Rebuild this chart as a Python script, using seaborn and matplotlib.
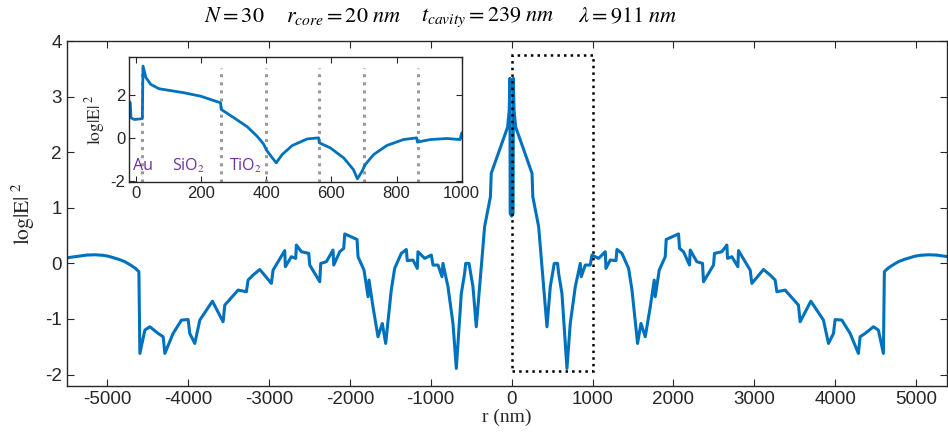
import numpy as np
import pandas as pd
import seaborn as sns
import matplotlib.pyplot as plt
from matplotlib.patches import Rectangle

# main curve, r >= 0 (the plot is mirror symmetric about r = 0)
r_pos = [0, 18, 21, 30, 50, 107, 252, 262, 334, 375, 395, 437, 478, 527, 568, 581,
         622, 684, 725, 787, 849, 861, 910, 972, 993, 1075, 1158, 1166, 1219, 1290,
         1302, 1364, 1446, 1488, 1557, 1599, 1652, 1714, 1763, 1775, 1825, 1899, 1911,
         2063, 2076, 2125, 2199, 2208, 2290, 2360, 2372, 2496, 2508, 2599, 2661, 2669,
         2723, 2797, 2805, 2949, 2970, 3073, 3114, 3196, 3258, 3279, 3381, 3546, 3567,
         3699, 3855, 3917, 3979, 3999, 4082, 4185, 4287, 4308, 4370, 4473, 4534, 4596,
         4608, 4650, 4700, 4781, 4850, 4988, 5050, 5152, 5250, 5395, 5450, 5500]
logE_pos = [0.85, 0.9, 3.33, 2.75, 2.45, 2.22, 1.62, 1.2, 0.66, -0.06, -0.42, -1.14, -0.42,
            0.0, 0.0, -0.18, -0.54, -1.89, -1.08, -0.42, 0.0, -0.24, -0.03, -0.03, 0.15,
            0.09, 0.21, -0.09, 0.06, 0.05, 0.25, 0.18, -0.09, -0.48, -1.44, -1.08, -1.32,
            -0.78, -0.30, -0.6, -0.12, 0.12, 0.43, 0.53, 0.27, 0.21, -0.03, 0.24, 0.03,
            0.0, -0.33, -0.03, 0.18, 0.21, 0.33, 0.09, 0.12, -0.06, 0.23, -0.12, -0.36,
            -0.18, -0.11, -0.21, -0.30, -0.51, -0.48, -0.75, -1.05, -0.68, -1.02, -1.44,
            -1.26, -1.01, -1.02, -1.26, -1.62, -1.32, -1.26, -1.14, -1.20, -1.62,
            -0.15, -0.09, -0.04, 0.03, 0.07, 0.13, 0.145, 0.155, 0.15, 0.12, 0.11, 0.10]

# zoomed inset, 0 - 1000 nm
r_zoom = [-20, -17, -15, -5, 15, 20, 22, 31, 46, 71, 148, 199, 260, 262, 301, 342, 372,
          393, 400, 415, 431, 449, 480, 526, 561, 563, 597, 638, 668, 680, 694, 704, 730,
          770, 821, 862, 864, 903, 954, 995, 1000]
logE_zoom = [1.7, 1.64, 0.94, 0.86, 0.89, 0.9, 3.36, 2.82, 2.50, 2.30, 2.11, 1.95, 1.64,
             1.33, 0.94, 0.52, 0.08, -0.31, -0.55, -0.86, -1.17, -0.78, -0.36, -0.05, 0.0,
             -0.23, -0.47, -0.94, -1.49, -1.92, -1.57, -1.25, -0.78, -0.36, -0.08, 0.0,
             -0.2, -0.08, -0.03, -0.08, 0.23]

layer_edges = [20, 261, 398, 563, 700, 865]
layer_names = ["Au", "SiO$_2$", "TiO$_2$"]
layer_label_r = [-8, 112, 286]

main_xticks = list(range(-5000, 5001, 1000))
main_yticks = [-2, -1, 0, 1, 2, 3, 4]
inset_xticks = [0, 200, 400, 600, 800, 1000]
inset_yticks = [-2, 0, 2]

title_parts = ["$N = 30$", "$r_{core} = 20\\ nm$", "$t_{cavity} = 239\\ nm$",
               "$\\lambda = 911\\ nm$"]
title_x = [0.247, 0.363, 0.515, 0.662]

r_full = [-r for r in reversed(r_pos[1:])] + r_pos
e_full = list(reversed(logE_pos[1:])) + logE_pos
df_main = pd.DataFrame({"r": r_full, "logE": e_full})
df_zoom = pd.DataFrame({"r": r_zoom, "logE": logE_zoom})

sns.set_style("white")
plt.rcParams["font.family"] = ["Liberation Sans", "DejaVu Sans"]
plt.rcParams["mathtext.fontset"] = "stix"
plt.rcParams["axes.unicode_minus"] = False
plt.rcParams["xtick.direction"] = "in"
plt.rcParams["ytick.direction"] = "in"
plt.rcParams["xtick.bottom"] = True
plt.rcParams["ytick.left"] = True
plt.rcParams["xtick.top"] = True
plt.rcParams["ytick.right"] = True

axis_col = "#262626"
line_col = "#0072BD"

fig = plt.figure(figsize=(9.48, 4.42), dpi=100)
ax = fig.add_axes([0.0704, 0.1274, 0.9286, 0.7798])
sns.lineplot(data=df_main, x="r", y="logE", ax=ax, color=line_col, lw=2.2,
             estimator=None, sort=False)
ax.add_patch(Rectangle((0, -1.93), 1000, 5.68, fill=False, ls=":", lw=1.8, ec="k", zorder=3))
ax.set_xlim(-5500, 5383)
ax.set_ylim(-2.2, 4)
ax.set_xticks(main_xticks)
ax.set_yticks(main_yticks)
ax.tick_params(labelsize=13.5, colors=axis_col, length=5, width=0.8,
               bottom=True, left=True, top=True, right=True)
ax.set_xlabel("r (nm)", family="Liberation Serif", fontsize=14, color=axis_col, labelpad=1)
ax.set_ylabel("$\\mathrm{log|E|}^{\\ 2}$", fontsize=15.5, color=axis_col, labelpad=6)
for s in ax.spines.values():
    s.set_color(axis_col)
    s.set_linewidth(1.0)

ins = fig.add_axes([0.1364, 0.589, 0.3506, 0.2828])
ins.vlines(layer_edges, -2.05, 3.25, colors="#9a9a9a", linestyles=":", lw=2.2)
sns.lineplot(data=df_zoom, x="r", y="logE", ax=ins, color=line_col, lw=2.0,
             estimator=None, sort=False)
for name, xr in zip(layer_names, layer_label_r):
    ins.text(xr, -1.3, name, color="#7030A0", fontsize=11.5, va="center",
             family=["Open Sans", "DejaVu Sans"])
ins.set_xlim(-20, 1000)
ins.set_ylim(-2.05, 3.8)
ins.set_xticks(inset_xticks)
ins.set_yticks(inset_yticks)
ins.tick_params(labelsize=12, colors=axis_col, length=4, width=0.8, pad=3,
                bottom=True, left=True, top=True, right=True)
ins.set_xlabel("")
ins.set_ylabel("$\\mathrm{log|E|}^{\\ 2}$", fontsize=12.5, color=axis_col, labelpad=2)
for s in ins.spines.values():
    s.set_color(axis_col)
    s.set_linewidth(1.0)

for txt, xp in zip(title_parts, title_x):
    fig.text(xp, 0.962, txt, ha="center", va="center", fontsize=16, color="k")

fig.savefig("out.png", dpi=100)
